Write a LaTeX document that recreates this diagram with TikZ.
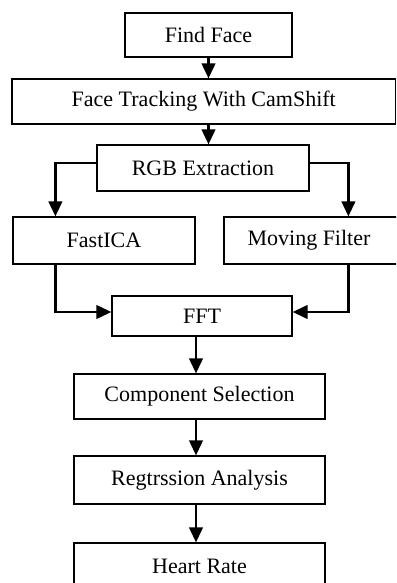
\documentclass[tikz,border=0pt]{standalone}
\usepackage{fontspec}
\setmainfont{Liberation Serif}
\usetikzlibrary{arrows.meta, positioning}

\tikzset{
  stage/.style={rectangle, draw=black, line width=0.6pt, inner sep=0pt,
    font=\fontsize{11}{13}\selectfont},
  flow/.style={line width=1.1pt, -{Triangle[length=7.5pt, width=6.8pt]}}
}

\begin{document}
\begin{tikzpicture}[x=0.5pt, y=-0.5pt]
\useasboundingbox (0,0) rectangle (396,583);
\clip (0,0) rectangle (396,583);

% Top stages
\node[stage, minimum width=83.5pt, minimum height=22pt] (find) at (208.5,35) {Find Face};
\node[stage, minimum width=191.75pt, minimum height=22.5pt] (track) at (203.75,101.5) {Face Tracking With CamShift};
\node[stage, minimum width=106pt, minimum height=23pt] (rgb) at (203,168) {RGB Extraction};

% Two branches
\node[stage, minimum width=91pt, minimum height=23.5pt] (ica) at (104,240.5) {FastICA};
\node[stage, minimum width=98pt, minimum height=23.5pt] (mov) at (322,240.5) {Moving Filter\rule{13pt}{0pt}};

% Lower stages
\node[stage, minimum width=90pt, minimum height=20pt] (fft) at (202,316) {FFT};
\node[stage, minimum width=125.5pt, minimum height=22.5pt] (comp) at (199.5,396.5) {Component Selection};
\node[stage, minimum width=125.5pt, minimum height=24pt] (reg) at (199.5,480) {Regtrssion Analysis};
\node[stage, minimum width=125.5pt, minimum height=23.5pt] (heart) at (199.5,566.5) {Heart Rate};

% Connections
\draw[flow] (find.south) -- (find.south |- track.north);
\draw[flow] (find.south |- track.south) -- (find.south |- rgb.north);
\draw[flow] ([yshift=2.5pt]rgb.west) -| ([xshift=21.5pt]ica.north west);
\draw[flow] ([yshift=2.5pt]rgb.east) -| ([xshift=62.5pt]mov.north west);
\draw[flow] ([xshift=21.5pt]ica.south west) |- ([yshift=2pt]fft.west);
\draw[flow] ([xshift=62.5pt]mov.south west) |- ([yshift=2pt]fft.east);
\draw[flow] ([xshift=-1.75pt]comp.north |- fft.south) -- ([xshift=-1.75pt]comp.north);
\draw[flow] ([xshift=-1.75pt]comp.south) -- ([xshift=-1.75pt]reg.north);
\draw[flow] ([xshift=-1.75pt]reg.south) -- ([xshift=-1.75pt]heart.north);
\end{tikzpicture}
\end{document}
